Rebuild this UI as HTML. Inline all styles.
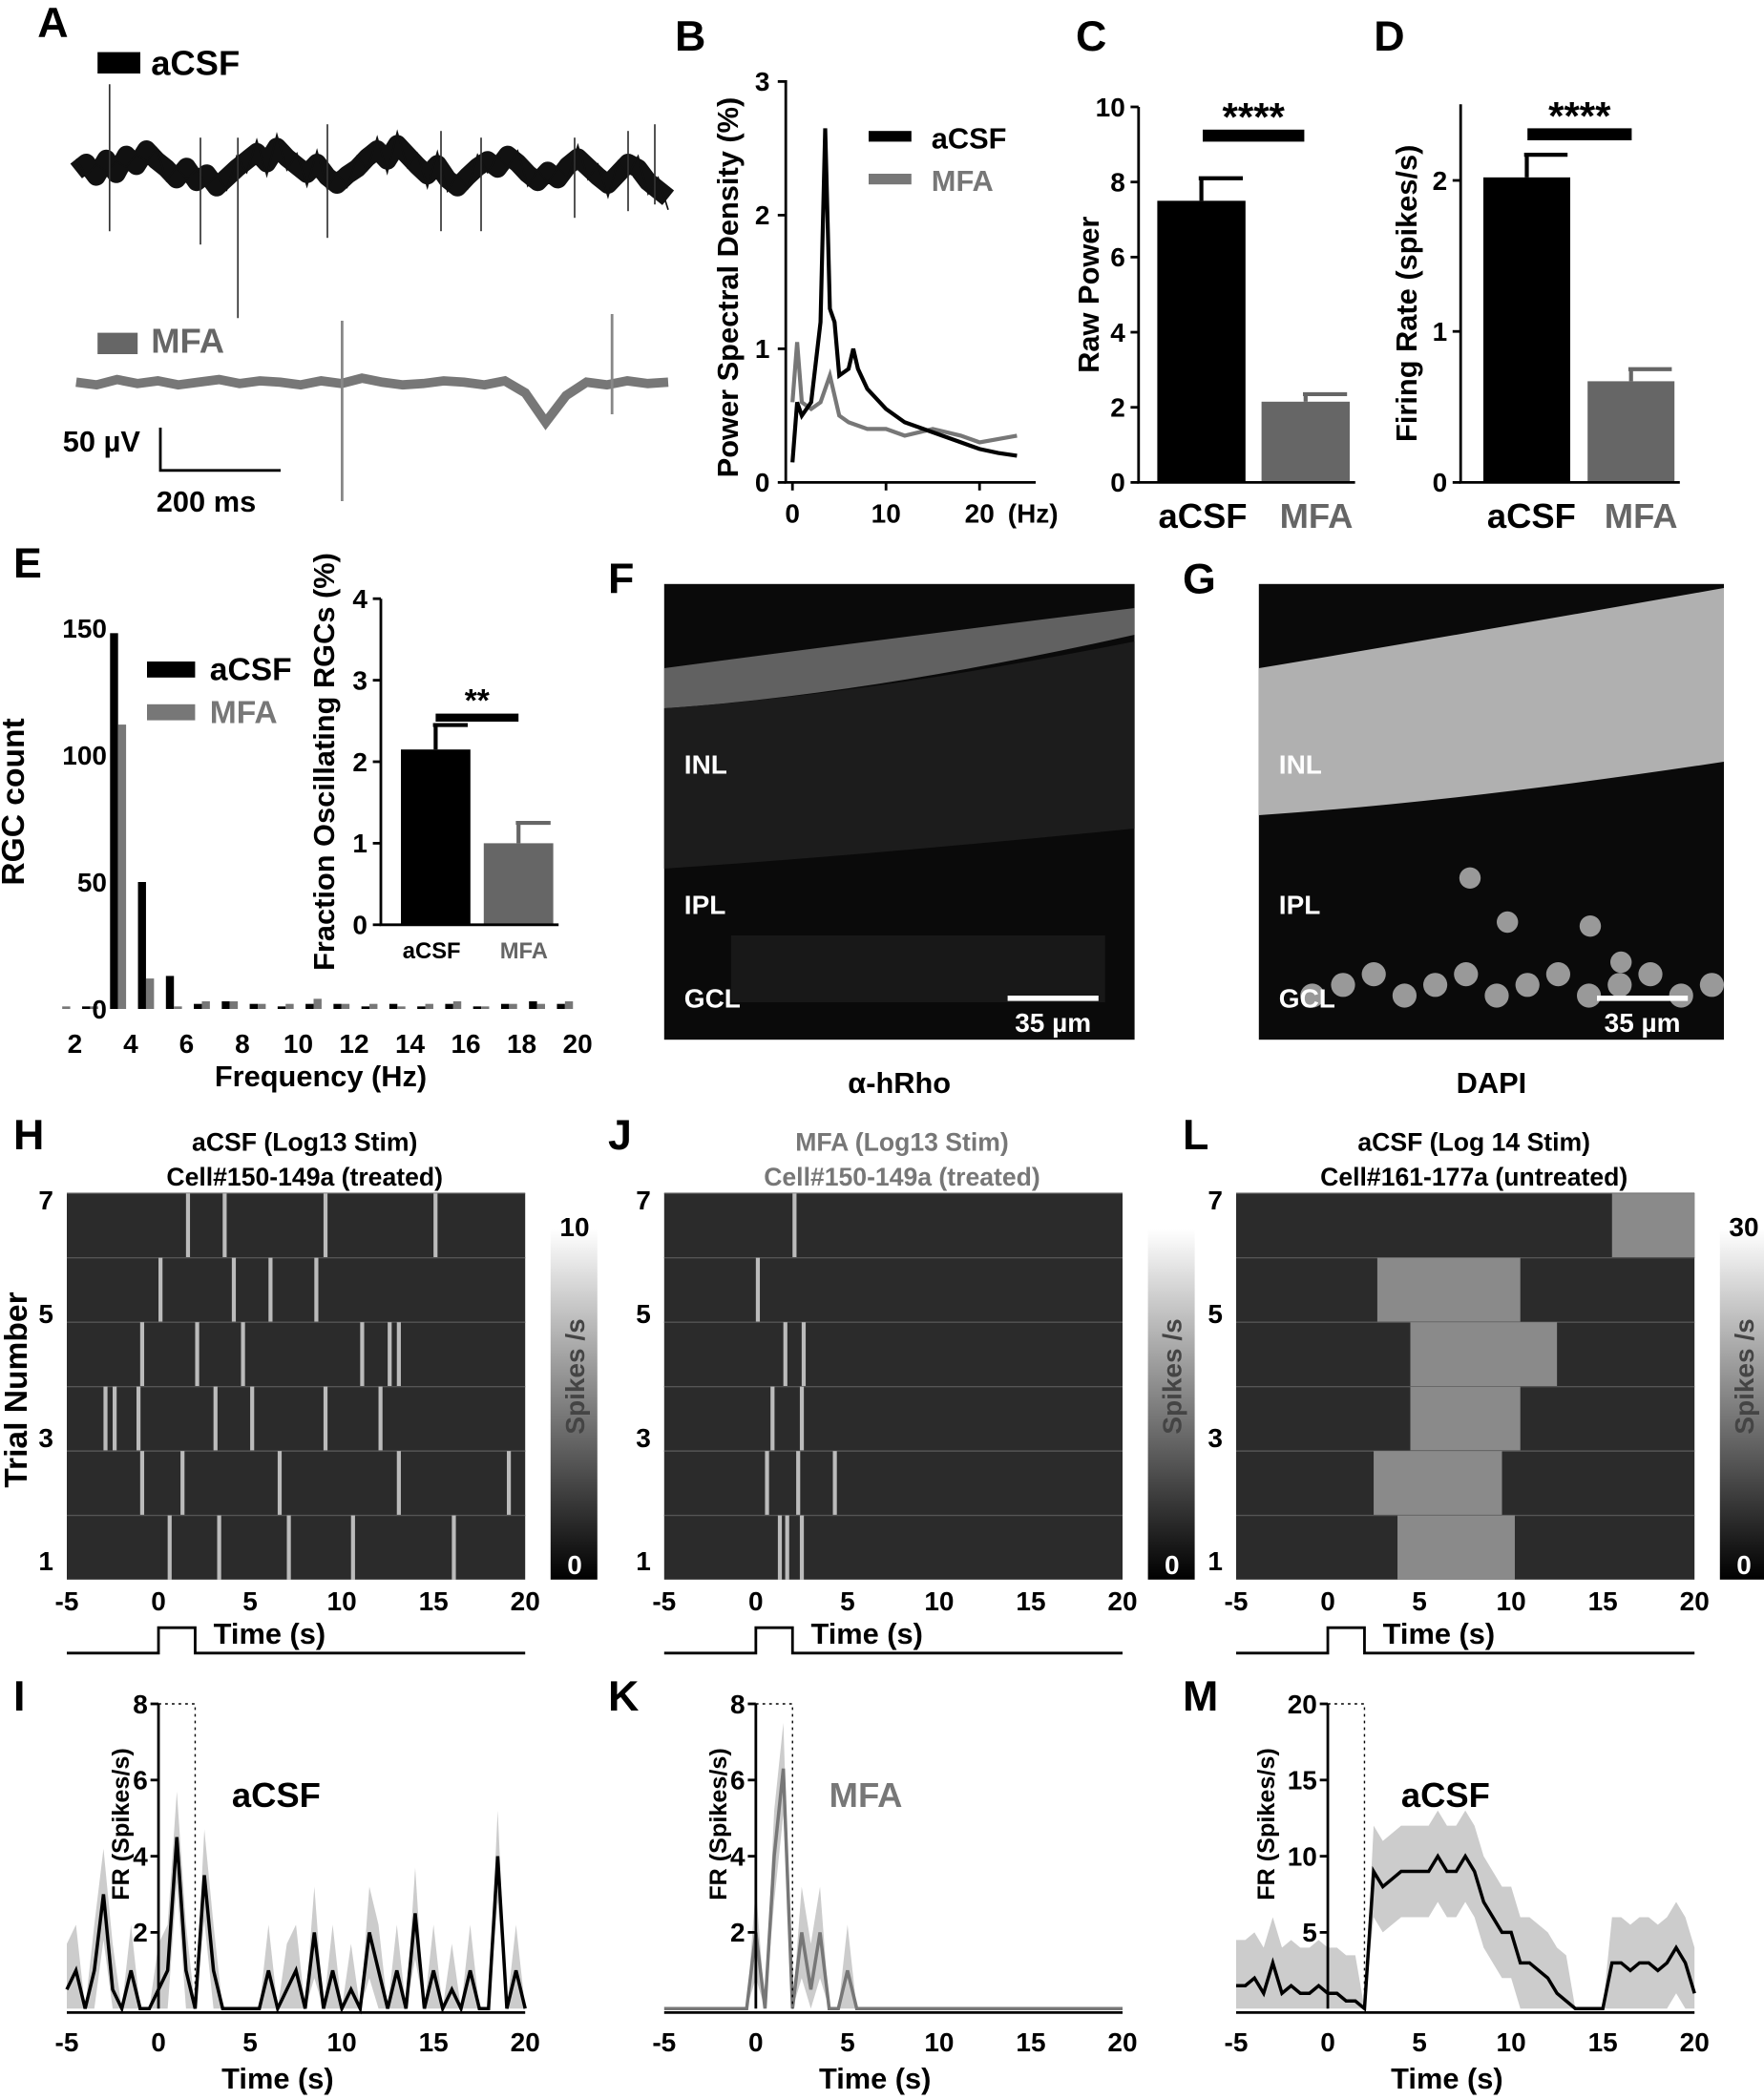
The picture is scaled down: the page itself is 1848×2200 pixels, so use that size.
<!DOCTYPE html>
<html><head><meta charset="utf-8"><style>
body{margin:0;background:#fff}
svg{display:block;font-family:"Liberation Sans",Arial,sans-serif}
text{font-weight:bold}
</style></head><body>
<svg id="fig" width="1848" height="2200" viewBox="0 0 1320 1571.43" xmlns="http://www.w3.org/2000/svg"></svg>
<script>
// ---------- data ----------
const psdFreq=[0,0.5,1,2,3,3.5,4,4.5,5,6,6.5,7,8,10,12,14,16,18,20,22,24];
const psdACSF=[0.15,0.6,0.5,0.6,1.2,2.65,1.3,1.2,0.8,0.85,1.0,0.85,0.7,0.55,0.45,0.4,0.35,0.3,0.25,0.22,0.2];
const psdMFAFreq=[0,0.5,1,2,3,4,5,6,8,10,12,15,18,20,24];
const psdMFA=[0.6,1.05,0.6,0.55,0.6,0.8,0.5,0.45,0.4,0.4,0.35,0.4,0.35,0.3,0.35];
const groups=["aCSF","MFA"];
const rawPower=[7.5,2.15], rawPowerErr=[0.6,0.2];
const firingRate=[2.02,0.67], firingRateErr=[0.15,0.08];
const histBins=[1.5,2.5,3.5,4.5,5.5,6.5,7.5,8.5,9.5,10.5,11.5,12.5,13.5,14.5,15.5,16.5,17.5,18.5,19.5];
const histACSF=[0,1,148,50,13,2,3,2,1,2,2,1,2,1,2,1,2,3,2];
const histMFA=[1,1,112,12,1,3,3,2,2,4,2,2,1,2,3,1,2,2,3];
const fracOsc=[2.15,1.0], fracOscErr=[0.3,0.25];
const psthTime=[]; for(let t=-5;t<=20.001;t+=0.5) psthTime.push(t);
const psthI=[0.5,1,0,1,3,0.5,0,1,0,0,0.5,1,4.5,1,0,3.5,1,0,0,0,0,0,1,0,0.5,1,0,2,0,1,0,0.5,0,2,1,0,1,0,2.5,0,1,0,0.5,0,1,0,0,4,0,1,0];
const psthK=[0,0,0,0,0,0,0,0,0,0,2,0,4,6.3,0,2,0.5,2,0,0,1,0,0,0,0,0,0,0,0,0,0,0,0,0,0,0,0,0,0,0,0,0,0,0,0,0,0,0,0,0,0];
const psthM=[1.5,1.5,2,1,3,1,1.5,1,1,1.5,1,1,0.5,0.5,0,9,8,8.5,9,9,9,9,10,9,9,10,9,7,6,5,5,3,3,2.5,2,1,0.5,0,0,0,0,3,3,2.5,3,3,2.5,3,4,3,1];
const rastH=[[1.5,3.5,9,15],[0,4,6,8.5],[-1,2,4.5,11,12.5,13],[-3,-2.5,-1.2,3,5,9,12],[-1,1.2,6.5,13,19],[0.5,3.2,7,10.5,16]];
const rastJ=[[2],[0],[1.5,2.5],[0.8,2.4],[0.5,2.2,4.2],[1.2,1.6,2.4]];
const rastLBlocks=[[15.5,20],[2.7,10.5],[4.5,12.5],[4.5,10.5],[2.5,9.5],[3.8,10.2]];

const svg=document.getElementById('fig');const NS="http://www.w3.org/2000/svg";
function el(tag,attrs,parent){const e=document.createElementNS(NS,tag);for(const k in attrs)e.setAttribute(k,attrs[k]);(parent||svg).appendChild(e);return e;}
function txt(x,y,s,size,attrs){const e=el('text',Object.assign({x:x,y:y,'font-size':size},attrs||{}));e.textContent=s;return e;}

[["A",28,28],["B",505,38],["C",805,38],["D",1028,38],["E",10,432],["F",455,444],["G",885,444],["H",10,860],["J",455,860],["L",885,860],["I",10,1280],["K",455,1280],["M",885,1280]].forEach(p=>{
 const t=txt(p[1],p[2],p[0],32);
 
 });

// ---------- A traces ----------
const trA=[0,-6,4,-9,2,-12,-4,-16,-8,-2,6,-3,8,2,12,5,-2,-8,-14,-6,-18,-10,-4,2,-6,4,10,3,-2,-10,-16,-8,-20,-12,-4,3,-5,6,12,4,-3,-8,-2,-12,-6,2,8,0,6,-4,-10,-3,4,10,2,-6,-2,8,14,20];
const gA=el('g',{});
el('rect',{x:73,y:39,width:32,height:16,fill:'#000'},gA);txt(113,56,"aCSF",26,{});
let pts=trA.map((v,i)=>[57+i*443/(trA.length-1),128+v]);
el('polyline',{points:pts.map(p=>p[0]+','+p[1]).join(' '),fill:'none',stroke:'#111','stroke-width':14,'stroke-linejoin':'round'},gA);
el('polyline',{points:pts.map((p,i)=>p[0]+','+(p[1]+(i%2?9:-9))).join(' '),fill:'none',stroke:'#111','stroke-width':1.2},gA);
[[82,-40,45],[150,0,55],[178,0,110],[245,-10,50],[330,-5,45],[360,0,45],[430,0,35],[470,-5,30],[490,-10,25]].forEach(s=>el('line',{x1:s[0],y1:128+s[1]-25,x2:s[0],y2:128+s[2],stroke:'#333','stroke-width':1.2},gA));
el('rect',{x:73,y:249,width:30,height:16,fill:'#666'},gA);txt(113,264,"MFA",26,{fill:'#666'});
const trM=[0,2,-2,1,-1,2,0,-2,1,-1,0,2,-1,1,-3,0,2,1,-1,0,2,-1,8,30,10,0,2,-1,1,0];
el('polyline',{points:trM.map((v,i)=>(57+i*443/(trM.length-1))+','+(286+v)).join(' '),fill:'none',stroke:'#777','stroke-width':7},gA);
[[256,240,375],[458,235,310]].forEach(s=>el('line',{x1:s[0],y1:s[1],x2:s[0],y2:s[2],stroke:'#888','stroke-width':2},gA));
el('polyline',{points:'120,320 120,352 210,352',fill:'none',stroke:'#000','stroke-width':2},gA);
txt(47,338,"50 µV",22,{});txt(117,383,"200 ms",22,{});

// ---------- B PSD ----------
const gB=el('g',{});
const bx=f=>593+f*7, by=v=>361-v*100;
el('polyline',{points:'588,60 588,361 775,361',fill:'none',stroke:'#000','stroke-width':2},gB);
[0,1,2,3].forEach(v=>{el('line',{x1:582,y1:by(v),x2:588,y2:by(v),stroke:'#000','stroke-width':2},gB);txt(576,by(v)+7,String(v),20,{'text-anchor':'end'});});
[0,10,20].forEach(v=>{el('line',{x1:bx(v),y1:361,x2:bx(v),y2:367,stroke:'#000','stroke-width':2},gB);txt(bx(v),391,String(v),20,{'text-anchor':'middle'});});
txt(773,391,"(Hz)",20,{'text-anchor':'middle'});
txt(552,215,"Power Spectral Density (%)",22,{'text-anchor':'middle',transform:'rotate(-90 552 215)'});
const lM=el('polyline',{points:psdMFAFreq.map((f,i)=>bx(f)+','+by(psdMFA[i])).join(' '),fill:'none',stroke:'#777','stroke-width':3},gB);

const lA=el('polyline',{points:psdFreq.map((f,i)=>bx(f)+','+by(psdACSF[i])).join(' '),fill:'none',stroke:'#000','stroke-width':3},gB);

el('rect',{x:650,y:98,width:32,height:8,fill:'#000'},gB);txt(697,111,"aCSF",22,{'font-weight':'normal'});
el('rect',{x:650,y:130,width:32,height:8,fill:'#777'},gB);txt(697,143,"MFA",22,{'font-weight':'normal',fill:'#777'});

// ---------- bar chart helper ----------
function barChart(name,axX,x0s,w,yZero,scale,ticks,vals,errs,label,labelX,topY,tickFmt){
 const g=el('g',{});
 const y=v=>yZero-v*scale;
 vals.forEach((v,i)=>{
  el('line',{x1:x0s[i]+w/2,y1:y(v),x2:x0s[i]+w/2,y2:y(v+errs[i]),stroke:i?'#666':'#000','stroke-width':3},g);
  el('line',{x1:x0s[i]+w/2-2,y1:y(v+errs[i]),x2:x0s[i]+w-2,y2:y(v+errs[i]),stroke:i?'#666':'#000','stroke-width':3},g);
  const r=el('rect',{x:x0s[i],y:y(v),width:w,height:v*scale,fill:i?'#666':'#000'},g);
  
 });
 el('polyline',{points:axX+','+topY+' '+axX+','+yZero+' '+(x0s[1]+w+4)+','+yZero,fill:'none',stroke:'#000','stroke-width':2},g);
 ticks.forEach(v=>{el('line',{x1:axX-6,y1:y(v),x2:axX,y2:y(v),stroke:'#000','stroke-width':2},g);txt(axX-10,y(v)+7,tickFmt(v),20,{'text-anchor':'end'});});
 txt(labelX,(topY+yZero)/2,label,22,{'text-anchor':'middle',transform:'rotate(-90 '+labelX+' '+(topY+yZero)/2+')'});
 return g;}
const gC=barChart('raw-power-chart',852,[866,944],66,361,28.1,[0,2,4,6,8,10],rawPower,rawPowerErr,"Raw Power",822,80,v=>String(v));
el('rect',{x:900,y:97,width:76,height:9,fill:'#000'},gC);txt(938,98,"****",30,{'text-anchor':'middle'});
txt(900,395,"aCSF",26,{'text-anchor':'middle'});txt(985,395,"MFA",26,{'text-anchor':'middle',fill:'#666'});
const gD=barChart('firing-rate-chart',1093,[1110,1188],65,361,113,[0,1,2],firingRate,firingRateErr,"Firing Rate (spikes/s)",1060,78,v=>String(v));
el('rect',{x:1143,y:96,width:78,height:9,fill:'#000'},gD);txt(1182,97,"****",30,{'text-anchor':'middle'});
txt(1146,395,"aCSF",26,{'text-anchor':'middle'});txt(1228,395,"MFA",26,{'text-anchor':'middle',fill:'#666'});

// ---------- E histogram ----------
const gE=el('g',{});
const ex=f=>56+(f-2)*20.9, ey=v=>755-v*1.9;
histBins.forEach((f,i)=>{
 const a=el('rect',{x:ex(f)-5,y:ey(histACSF[i]),width:6,height:histACSF[i]*1.9,fill:'#000'},gE);
 
 const m=el('rect',{x:ex(f)+1,y:ey(histMFA[i]),width:6,height:histMFA[i]*1.9,fill:'#777'},gE);
 });
[0,50,100,150].forEach(v=>txt(80,ey(v)+7,String(v),20,{'text-anchor':'end'}));
[2,4,6,8,10,12,14,16,18,20].forEach(v=>txt(ex(v),788,String(v),20,{'text-anchor':'middle'}));
txt(240,813,"Frequency (Hz)",22,{'text-anchor':'middle'});
txt(18,600,"RGC count",24,{'text-anchor':'middle',transform:'rotate(-90 18 600)'});
el('rect',{x:110,y:495,width:36,height:12,fill:'#000'},gE);txt(157,509,"aCSF",24,{'font-weight':'normal'});
el('rect',{x:110,y:527,width:36,height:12,fill:'#777'},gE);txt(157,541,"MFA",24,{'font-weight':'normal',fill:'#777'});
const gEi=barChart('fraction-oscillating-inset',285,[300,362],52,692,61,[0,1,2,3,4],fracOsc,fracOscErr,"Fraction Oscillating RGCs (%)",250,448,v=>String(v));
el('rect',{x:326,y:534,width:62,height:6,fill:'#000'},gEi);txt(357,532,"**",24,{'text-anchor':'middle'});
txt(323,717,"aCSF",17,{'text-anchor':'middle'});txt(392,717,"MFA",17,{'text-anchor':'middle',fill:'#666'});

// ---------- F/G images ----------
function micro(name,x,w,kind,cap){
 const g=el('g',{});
 el('rect',{x:x,y:437,width:w,height:341,fill:'#0a0a0a'},g);
 if(kind==='F'){el('path',{d:`M${x} 500 Q${x+150} 480 ${x+w} 455 L${x+w} 475 Q${x+150} 520 ${x} 530Z`,fill:'#777',opacity:0.8},g);
  el('path',{d:`M${x} 530 Q${x+150} 520 ${x+w} 480 L${x+w} 620 Q${x+150} 640 ${x} 650Z`,fill:'#1c1c1c'},g);
  el('rect',{x:x+50,y:700,width:280,height:50,fill:'#181818'},g);}
 else{el('path',{d:`M${x} 500 Q${x+150} 475 ${x+w} 440 L${x+w} 570 Q${x+150} 600 ${x} 610Z`,fill:'#b0b0b0'},g);
  for(let i=0;i<14;i++)el('circle',{cx:x+40+i*23,cy:745-(i%3)*8,r:9,fill:'#999'},g);
  [[1100,657],[1128,690],[1190,693],[1213,720]].forEach(c=>el('circle',{cx:c[0],cy:c[1],r:8,fill:'#999'},g));}
 txt(x+15,579,"INL",20,{fill:'#fff'});txt(x+15,684,"IPL",20,{fill:'#fff'});txt(x+15,754,"GCL",20,{fill:'#fff'});
 el('rect',{x:x+w-95,y:745,width:68,height:4,fill:'#fff'},g);txt(x+w-61,772,"35 µm",20,{fill:'#fff','text-anchor':'middle'});
 txt(x+w/2,818,cap,22,{'text-anchor':'middle'});}
micro('hrho-image',497,352,'F',"α-hRho");micro('dapi-image',942,348,'G',"DAPI");

// ---------- rasters ----------
function raster(name,x0,title1,title2,col,events,blocks,cmax){
 const g=el('g',{});
 const X=t=>x0+(t+5)*13.72;const top=893,rh=48.2;
 el('rect',{x:x0,y:top,width:343,height:289,fill:'#2b2b2b'},g);
 for(let r=0;r<6;r++){el('line',{x1:x0,y1:top+r*rh,x2:x0+343,y2:top+r*rh,stroke:'#555'},g);
  if(blocks){const b=blocks[r];const bl=el('rect',{x:X(b[0]),y:top+r*rh,width:X(b[1])-X(b[0]),height:rh,fill:'#8a8a8a'},g);}
  if(events)events[r].forEach(t=>{const s=el('rect',{x:X(t),y:top+r*rh,width:3,height:rh,fill:'#bbb'},g);});}
 txt(x0-10,905,"7",20,{'text-anchor':'end'});txt(x0-10,990,"5",20,{'text-anchor':'end'});txt(x0-10,1083,"3",20,{'text-anchor':'end'});txt(x0-10,1175,"1",20,{'text-anchor':'end'});
 [-5,0,5,10,15,20].forEach(t=>txt(X(t),1205,String(t),20,{'text-anchor':'middle'}));
 txt(X(3),1230,"Time (s)",22,{});
 el('polyline',{points:`${x0} 1237 ${X(0)} 1237 ${X(0)} 1218 ${X(2)} 1218 ${X(2)} 1237 ${x0+343} 1237`,fill:'none',stroke:'#000','stroke-width':2},g);
 txt(x0+178,861,title1,19,{'text-anchor':'middle',fill:col});txt(x0+178,887,title2,19,{'text-anchor':'middle',fill:col});
 const gid='cb'+name;const d=el('defs',{},g);const lg=el('linearGradient',{id:gid,x1:0,y1:0,x2:0,y2:1},d);
 el('stop',{offset:0,'stop-color':'#fff'},lg);el('stop',{offset:1,'stop-color':'#000'},lg);
 const cb=el('rect',{x:x0+362,y:920,width:35,height:262,fill:'url(#'+gid+')'},g);
 
 txt(x0+380,925,String(cmax),20,{'text-anchor':'middle'});txt(x0+380,1178,"0",20,{'text-anchor':'middle',fill:'#fff'});
 txt(x0+387,1030,"Spikes /s",20,{'text-anchor':'middle',fill:'#444',transform:`rotate(-90 ${x0+387} 1030)`});}
raster('raster-h',50,"aCSF (Log13 Stim)","Cell#150-149a (treated)",'#000',rastH,null,10);
raster('raster-j',497,"MFA (Log13 Stim)","Cell#150-149a (treated)",'#777',rastJ,null,'');
raster('raster-l',925,"aCSF (Log 14 Stim)","Cell#161-177a (untreated)",'#000',null,rastLBlocks,30);
txt(20,1040,"Trial Number",24,{'text-anchor':'middle',transform:'rotate(-90 20 1040)'});

// ---------- PSTHs ----------
function psth(name,x0,vals,ymax,ticks,col,label,labOff){
 const g=el('g',{});
 const X=t=>x0+(t+5)*13.72, Y=v=>1503-v*(228/ymax);
 const sd=ymax/8;
 const up=psthTime.map((t,i)=>X(t)+','+Y(vals[i]>0?vals[i]+1.2*sd:0)).join(' ');
 const dn=psthTime.map((t,i)=>X(t)+','+Y(Math.max(0,vals[i]-1.2*sd))).reverse().join(' ');
 el('polygon',{points:up+' '+dn,fill:'#ccc'},g);
 const ln=el('polyline',{points:psthTime.map((t,i)=>X(t)+','+Y(vals[i])).join(' '),fill:'none',stroke:col,'stroke-width':2.5},g);
 
 el('line',{x1:X(0),y1:1275,x2:X(0),y2:1503,stroke:'#000','stroke-width':2},g);
 el('polyline',{points:`${X(0)} 1275 ${X(2)} 1275 ${X(2)} 1503`,fill:'none',stroke:'#000','stroke-dasharray':'2 3'},g);
 ticks.forEach(v=>{el('line',{x1:X(0)-6,y1:Y(v),x2:X(0),y2:Y(v),stroke:'#000','stroke-width':2},g);txt(X(0)-8,Y(v)+7,String(v),20,{'text-anchor':'end'});});
 el('line',{x1:x0,y1:1506,x2:x0+343,y2:1506,stroke:'#000','stroke-width':2},g);
 [-5,0,5,10,15,20].forEach(t=>txt(X(t),1535,String(t),20,{'text-anchor':'middle'}));
 txt(X(6.5),1563,"Time (s)",22,{'text-anchor':'middle'});
 const lx=X(0)-labOff;
 txt(lx,1365,"FR (Spikes/s)",18,{'text-anchor':'middle',transform:`rotate(-90 ${lx} 1365)`});
 txt(X(4),1352,label,26,{fill:col});}
psth('psth-i',50,psthI,8,[2,4,6,8],'#000',"aCSF",22);
psth('psth-k',497,psthK,8,[2,4,6,8],'#777',"MFA",22);
psth('psth-m',925,psthM,20,[5,10,15,20],'#000',"aCSF",40);
</script>
</body></html>
